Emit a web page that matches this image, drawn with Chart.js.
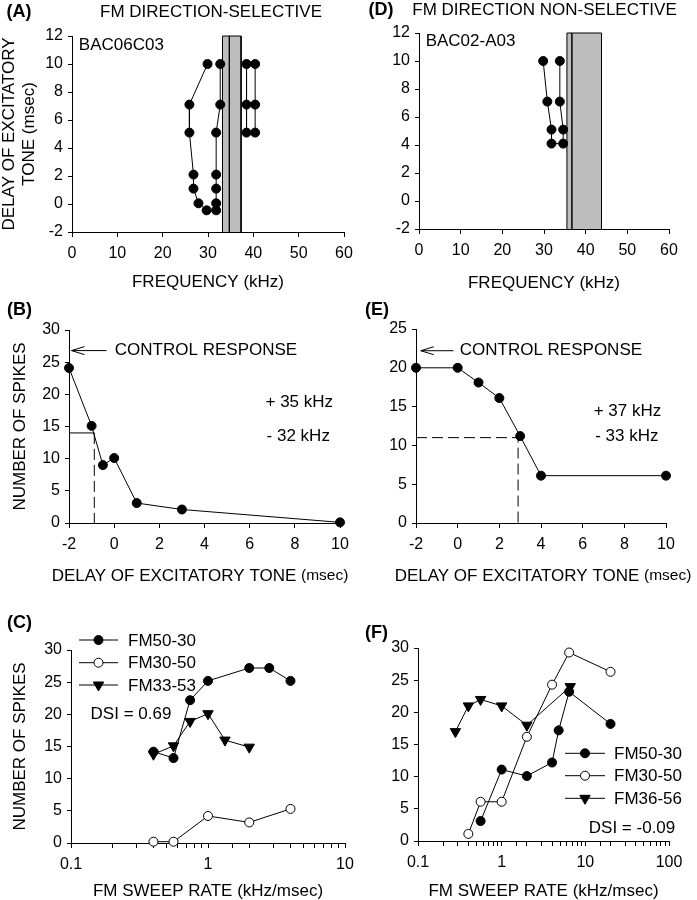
<!DOCTYPE html>
<html>
<head>
<meta charset="utf-8">
<title>FM direction selectivity</title>
<script src="https://cdn.jsdelivr.net/npm/chart.js@4.4.1/dist/chart.umd.min.js"></script>
<style>
  body { margin: 0; background: #fff; }
  #page { position: relative; width: 697px; height: 900px; }
  #page canvas { position: absolute; left: 0; top: 0; }
</style>
</head>
<body>
<div id="page">
  <canvas id="chartA" width="697" height="900"></canvas>
  <canvas id="chartD" width="697" height="900"></canvas>
  <canvas id="chartB" width="697" height="900"></canvas>
  <canvas id="chartE" width="697" height="900"></canvas>
  <canvas id="chartC" width="697" height="900"></canvas>
  <canvas id="chartF" width="697" height="900"></canvas>
</div>
<script>
'use strict';

// ---- data ----

// (A) inhibitory area, direction-selective neuron
const aLowFreq   = [29.9, 25.9, 25.9, 26.8, 26.8, 27.9, 29.7, 31.8, 31.8, 31.8, 31.8, 31.8, 32.7, 32.7];
const aLowDelay  = [10, 7.1, 5.1, 2.1, 1.1, 0.05, -0.45, -0.45, 0.05, 1.1, 2.1, 5.1, 7.1, 10];
const aHighFreq  = [38.5, 38.5, 38.5, 40.4, 40.4, 40.4];
const aHighDelay = [10, 7.1, 5.1, 5.1, 7.1, 10];
const aToneBand  = [33.2, 34.7, 37.3];   // kHz edges of grey excitatory tone band

// (D) direction non-selective neuron
const dFreq  = [29.8, 30.8, 31.8, 31.8, 34.6, 34.6, 33.8, 33.8];
const dDelay = [10, 7.1, 5.1, 4.1, 4.1, 5.1, 7.1, 10];
const dToneBand = [35.5, 36.7, 43.8];

// (B) spikes vs delay
const bDelay  = [-2, -1, -0.5, 0, 1, 3, 10];
const bSpikes = [24.1, 15.1, 9.0, 10.1, 3.1, 2.1, 0.1];
const bHalfLevel = 14, bHalfDelay = -0.88;
const bControl = 26.8;

// (E) spikes vs delay
const eDelay  = [-2, 0, 1, 2, 3, 4, 10];
const eSpikes = [20, 20, 18.1, 16.1, 11.2, 6.1, 6.1];
const eHalfLevel = 11, eHalfDelay = 2.9;
const eControl = 22.2;

// (C) sweep rate functions
const cRateDown = [0.4, 0.56, 0.74, 1, 2, 2.8, 4];
const cSpkDown  = [14.2, 13.2, 22.2, 25.2, 27.2, 27.2, 25.2];
const cRateUp   = [0.4, 0.56, 1, 2, 4];
const cSpkUp    = [0.2, 0.2, 4.2, 3.2, 5.3];
const cRateUp2  = [0.4, 0.56, 0.74, 1, 1.33, 2];
const cSpkUp2   = [13.8, 15.1, 18.9, 20.1, 16, 14.9];

// (F) sweep rate functions
const fRateDown = [0.56, 1, 2, 4, 4.8, 6.4, 20];
const fSpkDown  = [3.1, 11.1, 10.1, 12.2, 17.2, 23.2, 18.2];
const fRateUp   = [0.4, 0.56, 1, 2, 4, 6.4, 20];
const fSpkUp    = [1.1, 6.1, 6.1, 16.2, 24.3, 29.3, 26.3];
const fRateUp2  = [0.28, 0.4, 0.56, 1, 2, 6.6];
const fSpkUp2   = [17, 21, 22, 21, 18, 24];

const freqTicks  = [0, 60, 10];
const delayTicks = [-2, 12, 2];

// ---- helpers ----
Chart.defaults.font.family = '"Liberation Sans", Arial, Helvetica, sans-serif';
Chart.defaults.font.size = 16;
Chart.defaults.color = '#000';

const PAGE_W = 697, PAGE_H = 900;
const FONT = '"Liberation Sans", Arial, Helvetica, sans-serif';

function pts(xs, ys) {
  return xs.map((x, i) => ({ x: x, y: ys[i] }));
}

function series(xs, ys, kind, extra) {
  const ds = {
    data: pts(xs, ys),
    borderColor: '#000', borderWidth: 1, tension: 0, fill: false, clip: false,
    pointStyle: 'circle', pointRadius: 4.5, pointBorderWidth: 1,
    pointBorderColor: '#000', pointBackgroundColor: '#000'
  };
  if (kind === 'open') ds.pointBackgroundColor = '#fff';
  if (kind === 'tri') { ds.pointStyle = 'triangle'; ds.pointRotation = 180; ds.pointRadius = 6; }
  if (kind === 'none') ds.pointRadius = 0;
  return Object.assign(ds, extra || {});
}

// grey tone band drawn as a filled outline on the frequency axis
function band(edges, yTop, yBot) {
  const xs = [edges[0], edges[0], edges[1], edges[1], edges[1], edges[2], edges[2]];
  const ys = [yBot, yTop, yTop, yBot, yTop, yTop, yBot];
  return series(xs, ys, 'none', { fill: 'start', backgroundColor: '#bdbdbd', order: 10 });
}

function isDecade(v) {
  const l = Math.log10(v);
  return Math.abs(l - Math.round(l)) < 1e-6;
}

function xScale(type, min, max, step, title, box) {
  const s = {
    type: type, min: min, max: max,
    ticks: { autoSkip: false, maxRotation: 0, padding: 7 },
    grid: { drawOnChartArea: false, drawTicks: true, tickLength: 5, color: '#000' },
    border: { color: '#000', width: 1 },
    title: { display: !!title, text: title || '', font: { size: 17 }, padding: 0 },
    afterFit: sc => { sc.height = box.xH; }
  };
  if (type === 'logarithmic') {
    s.ticks.callback = v => (isDecade(v) ? String(v) : '');
  } else {
    s.ticks.stepSize = step;
  }
  return s;
}

function yScale(min, max, step, title, titlePad, box) {
  return {
    type: 'linear', min: min, max: max,
    ticks: { stepSize: step, padding: 5 },
    grid: { drawOnChartArea: false, drawTicks: true, tickLength: 4, color: '#000' },
    border: { color: '#000', width: 1 },
    title: { display: !!title, text: title || '', font: { size: 17, lineHeight: 1.15 },
             padding: { top: titlePad || 0, bottom: 0 } },
    afterFit: sc => { sc.width = box.yW; }
  };
}

function drawMarker(ctx, kind, x, y) {
  ctx.save();
  ctx.lineWidth = 1;
  ctx.strokeStyle = '#000';
  ctx.beginPath();
  if (kind === 'tri') {
    const r = 6;
    ctx.moveTo(x, y + r);
    ctx.lineTo(x - r * Math.sin(Math.PI / 3), y - r / 2);
    ctx.lineTo(x + r * Math.sin(Math.PI / 3), y - r / 2);
    ctx.closePath();
    ctx.fillStyle = '#000';
  } else {
    ctx.arc(x, y, 4.5, 0, Math.PI * 2);
    ctx.fillStyle = kind === 'open' ? '#fff' : '#000';
  }
  ctx.fill();
  ctx.stroke();
  ctx.restore();
}

// text made of runs in different sizes, centred on x
function drawRuns(ctx, runs, cx, cy) {
  let total = 0;
  runs.forEach(r => { ctx.font = r[1] + 'px ' + FONT; total += ctx.measureText(r[0]).width; });
  let x = cx - total / 2;
  ctx.textAlign = 'left';
  runs.forEach(r => {
    ctx.font = r[1] + 'px ' + FONT;
    ctx.fillText(r[0], x, cy);
    x += ctx.measureText(r[0]).width;
  });
}

// texts: {t, x, y, data:bool, size, bold, align} or {runs, x, y}
function extrasPlugin(texts, arrows, legend) {
  return {
    id: 'extras',
    afterDraw(chart) {
      const ctx = chart.ctx;
      const sx = chart.scales.x, sy = chart.scales.y;
      ctx.save();
      ctx.fillStyle = '#000';
      ctx.strokeStyle = '#000';
      ctx.textBaseline = 'middle';
      (texts || []).forEach(it => {
        const px = it.data ? sx.getPixelForValue(it.x) : it.x;
        const py = it.data ? sy.getPixelForValue(it.y) : it.y;
        if (it.runs) { drawRuns(ctx, it.runs, px, py); return; }
        ctx.font = (it.bold ? 'bold ' : '') + (it.size || 17) + 'px ' + FONT;
        ctx.textAlign = it.align || 'left';
        ctx.fillText(it.t, px, py);
      });
      (arrows || []).forEach(a => {
        const x1 = sx.getPixelForValue(a.from), x0 = sx.getPixelForValue(a.to);
        const y = sy.getPixelForValue(a.y);
        ctx.lineWidth = 1;
        ctx.beginPath();
        ctx.moveTo(x1, y); ctx.lineTo(x0, y);
        ctx.moveTo(x0 + 13, y - 4); ctx.lineTo(x0, y); ctx.lineTo(x0 + 13, y + 4);
        ctx.stroke();
      });
      if (legend) {
        legend.rows.forEach((row, i) => {
          const y = legend.y[i];
          ctx.lineWidth = 1;
          ctx.beginPath();
          ctx.moveTo(legend.x0, y); ctx.lineTo(legend.x1, y);
          ctx.stroke();
          drawMarker(ctx, row.kind, (legend.x0 + legend.x1) / 2, y);
          ctx.font = '17px ' + FONT;
          ctx.textAlign = 'left';
          ctx.fillText(row.label, legend.tx, y + 1);
        });
      }
      ctx.restore();
    }
  };
}

function panel(id, box, datasets, scales, extras) {
  return new Chart(document.getElementById(id), {
    type: 'line',
    data: { datasets: datasets },
    options: {
      responsive: false, animation: false, events: [], devicePixelRatio: 1,
      layout: { padding: { left: box.l - box.yW, top: box.t,
                           right: PAGE_W - box.r, bottom: PAGE_H - box.b - box.xH } },
      plugins: { legend: { display: false }, tooltip: { enabled: false } },
      scales: scales
    },
    plugins: [extras]
  });
}

const delayTitle = [['DELAY OF EXCITATORY TONE ', 17], ['(msec)', 15.5]];

// ---- panels ----
const boxA = { l: 72, t: 36, r: 344, b: 232, yW: 72, xH: 61 };
panel('chartA', boxA, [
  band(aToneBand, 12, -2),
  series(aLowFreq, aLowDelay, 'fill'),
  series(aHighFreq, aHighDelay, 'fill')
], {
  x: xScale('linear', freqTicks[0], freqTicks[1], freqTicks[2], 'FREQUENCY (kHz)', boxA),
  y: yScale(delayTicks[0], delayTicks[1], delayTicks[2], ['DELAY OF EXCITATORY', 'TONE (msec)'], 0, boxA)
}, extrasPlugin([
  { t: '(A)', x: 6.5, y: 12, size: 18, bold: true },
  { t: 'FM DIRECTION-SELECTIVE', x: 211, y: 12, align: 'center' },
  { t: 'BAC06C03', x: 1.5, y: 11.36, data: true }
]));

const boxD = { l: 419, t: 33, r: 669, b: 229, yW: 45, xH: 64.5 };
panel('chartD', boxD, [
  band(dToneBand, 12, -2),
  series(dFreq, dDelay, 'fill')
], {
  x: xScale('linear', freqTicks[0], freqTicks[1], freqTicks[2], 'FREQUENCY (kHz)', boxD),
  y: yScale(delayTicks[0], delayTicks[1], delayTicks[2], null, 0, boxD)
}, extrasPlugin([
  { t: '(D)', x: 368.5, y: 10, size: 18, bold: true },
  { t: 'FM DIRECTION NON-SELECTIVE', x: 544.5, y: 10, align: 'center' },
  { t: 'BAC02-A03', x: 1.6, y: 11.4, data: true }
]));

const boxB = { l: 69, t: 330, r: 340, b: 523, yW: 69, xH: 63 };
panel('chartB', boxB, [
  series([-2, bHalfDelay], [bHalfLevel, bHalfLevel], 'none'),
  series([bHalfDelay, bHalfDelay], [bHalfLevel, 0], 'none', { borderDash: [11, 5] }),
  series(bDelay, bSpikes, 'fill')
], {
  x: xScale('linear', -2, 10, 2, null, boxB),
  y: yScale(0, 30, 5, 'NUMBER OF SPIKES', 10.6, boxB)
}, extrasPlugin([
  { t: '(B)', x: 7, y: 310, size: 18, bold: true },
  { runs: delayTitle, x: 200, y: 576 },
  { t: 'CONTROL RESPONSE', x: 0.03, y: bControl, data: true },
  { t: '+ 35 kHz', x: 6.7, y: 18.8, data: true },
  { t: '- 32 kHz', x: 6.75, y: 13.4, data: true }
], [{ from: -0.34, to: -1.89, y: bControl }]));

const boxE = { l: 416, t: 329, r: 666, b: 523, yW: 45, xH: 63 };
panel('chartE', boxE, [
  series([-2, eHalfDelay, eHalfDelay], [eHalfLevel, eHalfLevel, 0], 'none', { borderDash: [11, 5] }),
  series(eDelay, eSpikes, 'fill')
], {
  x: xScale('linear', -2, 10, 2, null, boxE),
  y: yScale(0, 25, 5, null, 0, boxE)
}, extrasPlugin([
  { t: '(E)', x: 365, y: 310, size: 18, bold: true },
  { runs: delayTitle, x: 543, y: 576 },
  { t: 'CONTROL RESPONSE', x: 0.1, y: eControl, data: true },
  { t: '+ 37 kHz', x: 6.53, y: 14.4, data: true },
  { t: '- 33 kHz', x: 6.6, y: 11.2, data: true }
], [{ from: -0.2, to: -1.77, y: eControl }]));

const boxC = { l: 71, t: 650, r: 345, b: 843, yW: 71, xH: 59 };
panel('chartC', boxC, [
  series(cRateUp, cSpkUp, 'open'),
  series(cRateUp2, cSpkUp2, 'tri'),
  series(cRateDown, cSpkDown, 'fill')
], {
  x: xScale('logarithmic', 0.1, 10, null, 'FM SWEEP RATE (kHz/msec)', boxC),
  y: yScale(0, 30, 5, 'NUMBER OF SPIKES', 10.6, boxC)
}, extrasPlugin([
  { t: '(C)', x: 7, y: 623, size: 18, bold: true },
  { t: 'DSI = 0.69', x: 0.139, y: 20, data: true }
], null, {
  x0: 79, x1: 118, tx: 128, y: [640, 662.7, 685],
  rows: [{ kind: 'fill', label: 'FM50-30' }, { kind: 'open', label: 'FM30-50' }, { kind: 'tri', label: 'FM33-53' }]
}));

const boxF = { l: 418, t: 648, r: 669, b: 841, yW: 45, xH: 61 };
panel('chartF', boxF, [
  series(fRateUp2, fSpkUp2, 'tri'),
  series(fRateUp, fSpkUp, 'open'),
  series(fRateDown, fSpkDown, 'fill')
], {
  x: xScale('logarithmic', 0.1, 100, null, 'FM SWEEP RATE (kHz/msec)', boxF),
  y: yScale(0, 30, 5, null, 0, boxF)
}, extrasPlugin([
  { t: '(F)', x: 365, y: 633, size: 18, bold: true },
  { t: 'DSI = -0.09', x: 11.0, y: 1.9, data: true }
], null, {
  x0: 565, x1: 605, tx: 614, y: [753.3, 775.7, 798.3],
  rows: [{ kind: 'fill', label: 'FM50-30' }, { kind: 'open', label: 'FM30-50' }, { kind: 'tri', label: 'FM36-56' }]
}));
</script>
</body>
</html>
